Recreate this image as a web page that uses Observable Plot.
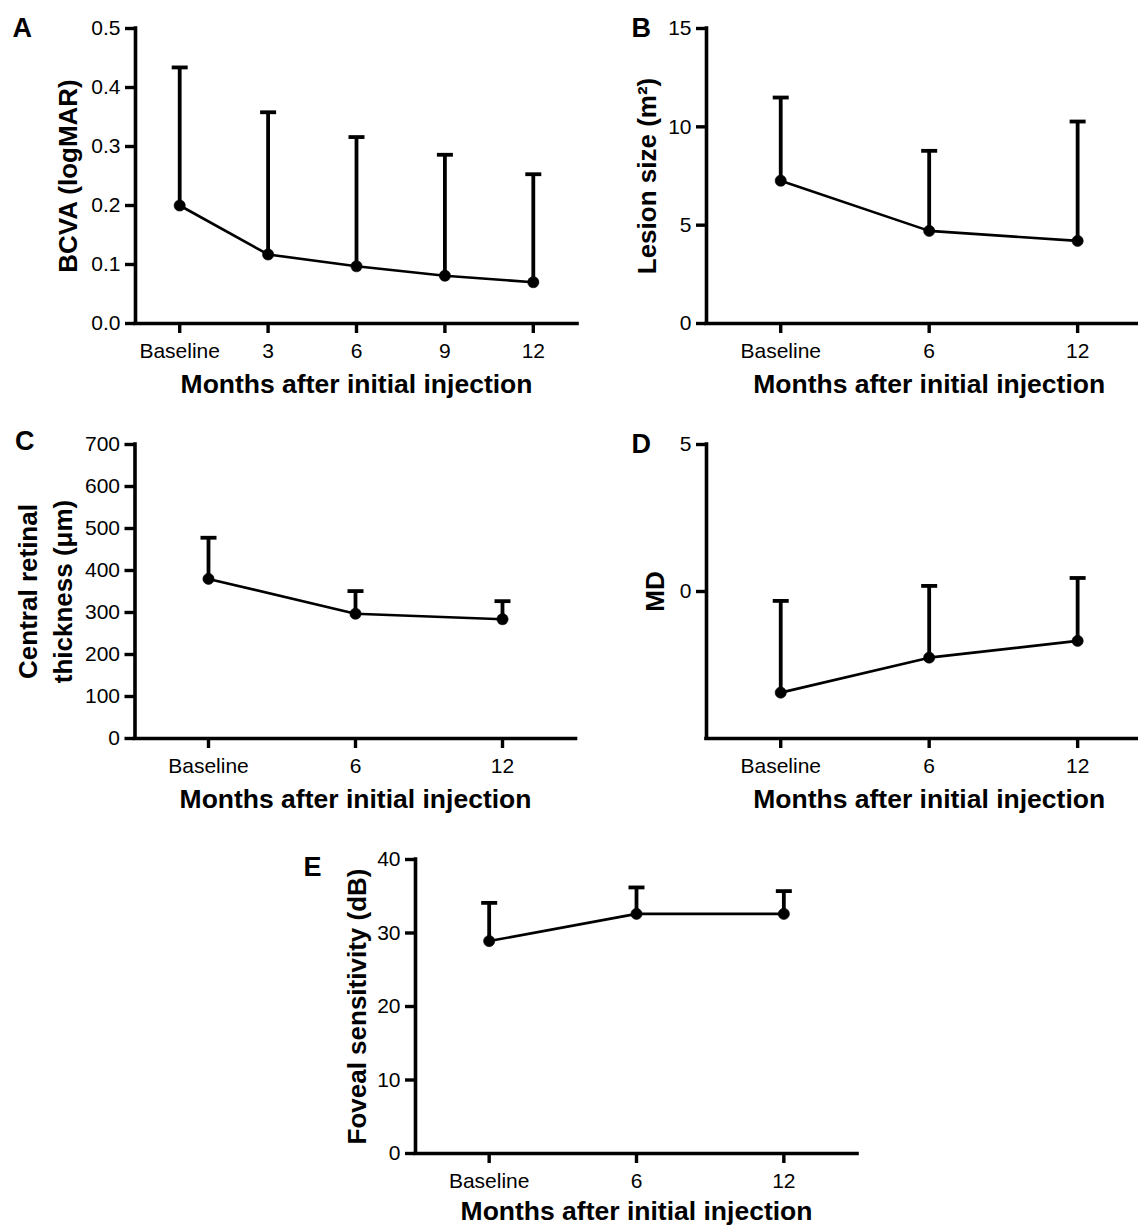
<!DOCTYPE html>
<html>
<head>
<meta charset="utf-8">
<script src="https://cdn.jsdelivr.net/npm/d3@7"></script>
<script src="https://cdn.jsdelivr.net/npm/@observablehq/plot@0.6"></script>
<style>
  html, body { margin: 0; padding: 0; background: #fff; }
  #root { position: relative; width: 1138px; height: 1228px; background: #fff; overflow: hidden; }
  .panel { position: absolute; }
  .panel svg { overflow: visible; }
</style>
</head>
<body>
<div id="root"></div>
<script>
// ---------- data ----------
const monthsA = ["Baseline", "3", "6", "9", "12"];
const months = ["Baseline", "6", "12"];

const bcvaMean  = [0.200, 0.117, 0.097, 0.081, 0.070];
const bcvaUpper = [0.434, 0.358, 0.316, 0.286, 0.253];
const bcvaTicks = [0, 0.1, 0.2, 0.3, 0.4, 0.5];

const lesionMean  = [7.26, 4.71, 4.20];
const lesionUpper = [11.49, 8.78, 10.27];
const lesionTicks = [0, 5, 10, 15];

const crtMean  = [380, 297, 284];
const crtUpper = [478, 351, 327];
const crtTicks = [0, 100, 200, 300, 400, 500, 600, 700];

const mdMean  = [-3.44, -2.25, -1.68];
const mdUpper = [-0.32, 0.19, 0.46];
const mdTicks = [0, 5];

const fsMean  = [28.9, 32.6, 32.6];
const fsUpper = [34.1, 36.2, 35.7];
const fsTicks = [0, 10, 20, 30, 40];

const xTitle = "Months after initial injection";
const FONT = "'Liberation Sans', Arial, Helvetica, sans-serif";

// horizontal cap symbol for error bars
const capSymbol = {
  draw(ctx, size) {
    const w = Math.sqrt(size / Math.PI);
    ctx.moveTo(-w, 0);
    ctx.lineTo(w, 0);
  }
};

function panel(cfg) {
  const data = cfg.cats.map((c, i) => ({i, cat: c, mean: cfg.mean[i], upper: cfg.upper[i]}));
  const n = cfg.cats.length;
  const ymin = cfg.yDomain[0];
  const chart = Plot.plot({
    width: cfg.width,
    height: cfg.height,
    marginLeft: cfg.ml,
    marginRight: cfg.mr,
    marginTop: cfg.mt,
    marginBottom: cfg.mb,
    style: {fontFamily: FONT, fontSize: "21px", color: "black", background: "transparent"},
    x: {type: "linear", domain: cfg.xDomain},
    y: {domain: cfg.yDomain},
    marks: [
      Plot.axisY({ticks: cfg.yTicks, tickFormat: cfg.yFormat, tickSize: 10, tickPadding: 5, strokeWidth: 3.4, label: null, fontSize: 21}),
      Plot.axisX({ticks: d3.range(n), tickFormat: i => cfg.cats[i], tickSize: 10, tickPadding: 10, strokeWidth: 3.4, label: null, fontSize: 21}),
      Plot.ruleX([cfg.xDomain[0]], {strokeWidth: 3.6, strokeLinecap: "square"}),
      Plot.ruleY([ymin], {strokeWidth: 3.6, strokeLinecap: "square"}),
      Plot.ruleX(data, {x: "i", y1: "mean", y2: "upper", strokeWidth: 3.8}),
      Plot.dot(data, {x: "i", y: "upper", symbol: capSymbol, r: 8, stroke: "black", strokeWidth: 3.8, fill: "none"}),
      Plot.line(data, {x: "i", y: "mean", strokeWidth: 2.6, stroke: "black"}),
      Plot.dot(data, {x: "i", y: "mean", r: 5.6, fill: "black", stroke: "black", strokeWidth: 0.6}),
      // y title
      Plot.text([cfg.yTitle], {frameAnchor: "left", dx: cfg.yTitleDx, rotate: -90, fontSize: 26, fontWeight: "bold", lineHeight: 1.38, textAnchor: "middle"}),
      // x title centred on the middle category
      Plot.text([xTitle], {x: () => (n - 1) / 2, y: () => ymin, dy: cfg.xTitleDy, fontSize: 26.5, fontWeight: "bold", lineAnchor: "middle"}),
      // panel letter
      Plot.text([cfg.letter], {frameAnchor: "top-left", dx: cfg.letterDx, dy: cfg.letterDy, fontSize: 27, fontWeight: "bold", textAnchor: "start", lineAnchor: "middle"})
    ]
  });
  const div = document.createElement("div");
  div.className = "panel";
  div.style.left = cfg.left + "px";
  div.style.top = cfg.top + "px";
  div.appendChild(chart);
  document.getElementById("root").appendChild(div);
}

panel({
  letter: "A", left: 0, top: 0, width: 580, height: 410,
  ml: 135, mr: 3, mt: 28, mb: 87,
  cats: monthsA, mean: bcvaMean, upper: bcvaUpper,
  xDomain: [-0.5, 4.5], yDomain: [0, 0.5], yTicks: bcvaTicks, yFormat: d3.format(".1f"),
  yTitle: "BCVA (logMAR)", yTitleDx: -70, xTitleDy: 61, letterDx: -123, letterDy: 0
});

panel({
  letter: "B", left: 570, top: 0, width: 568, height: 410,
  ml: 136, mr: 0, mt: 28, mb: 87,
  cats: months, mean: lesionMean, upper: lesionUpper,
  xDomain: [-0.5, 2.41], yDomain: [0, 15], yTicks: lesionTicks, yFormat: d3.format("d"),
  yTitle: "Lesion size (m²)", yTitleDx: -62, xTitleDy: 61, letterDx: -75, letterDy: 0
});

panel({
  letter: "C", left: 0, top: 420, width: 580, height: 410,
  ml: 134.5, mr: 4.5, mt: 24, mb: 92,
  cats: months, mean: crtMean, upper: crtUpper,
  xDomain: [-0.5, 2.5], yDomain: [0, 700], yTicks: crtTicks, yFormat: d3.format("d"),
  yTitle: "Central retinal\nthickness (μm)", yTitleDx: -92, xTitleDy: 61, letterDx: -120, letterDy: -3
});

panel({
  letter: "D", left: 570, top: 420, width: 568, height: 410,
  ml: 136, mr: 0, mt: 24, mb: 92,
  cats: months, mean: mdMean, upper: mdUpper,
  xDomain: [-0.5, 2.41], yDomain: [-5, 5], yTicks: mdTicks, yFormat: d3.format("d"),
  yTitle: "MD", yTitleDx: -54, xTitleDy: 61, letterDx: -75, letterDy: 0
});

panel({
  letter: "E", left: 300, top: 830, width: 580, height: 398,
  ml: 115, mr: 23, mt: 29, mb: 75,
  cats: months, mean: fsMean, upper: fsUpper,
  xDomain: [-0.5, 2.5], yDomain: [0, 40], yTicks: fsTicks, yFormat: d3.format("d"),
  yTitle: "Foveal sensitivity (dB)", yTitleDx: -61, xTitleDy: 58, letterDx: -112, letterDy: 8
});
</script>
</body>
</html>
